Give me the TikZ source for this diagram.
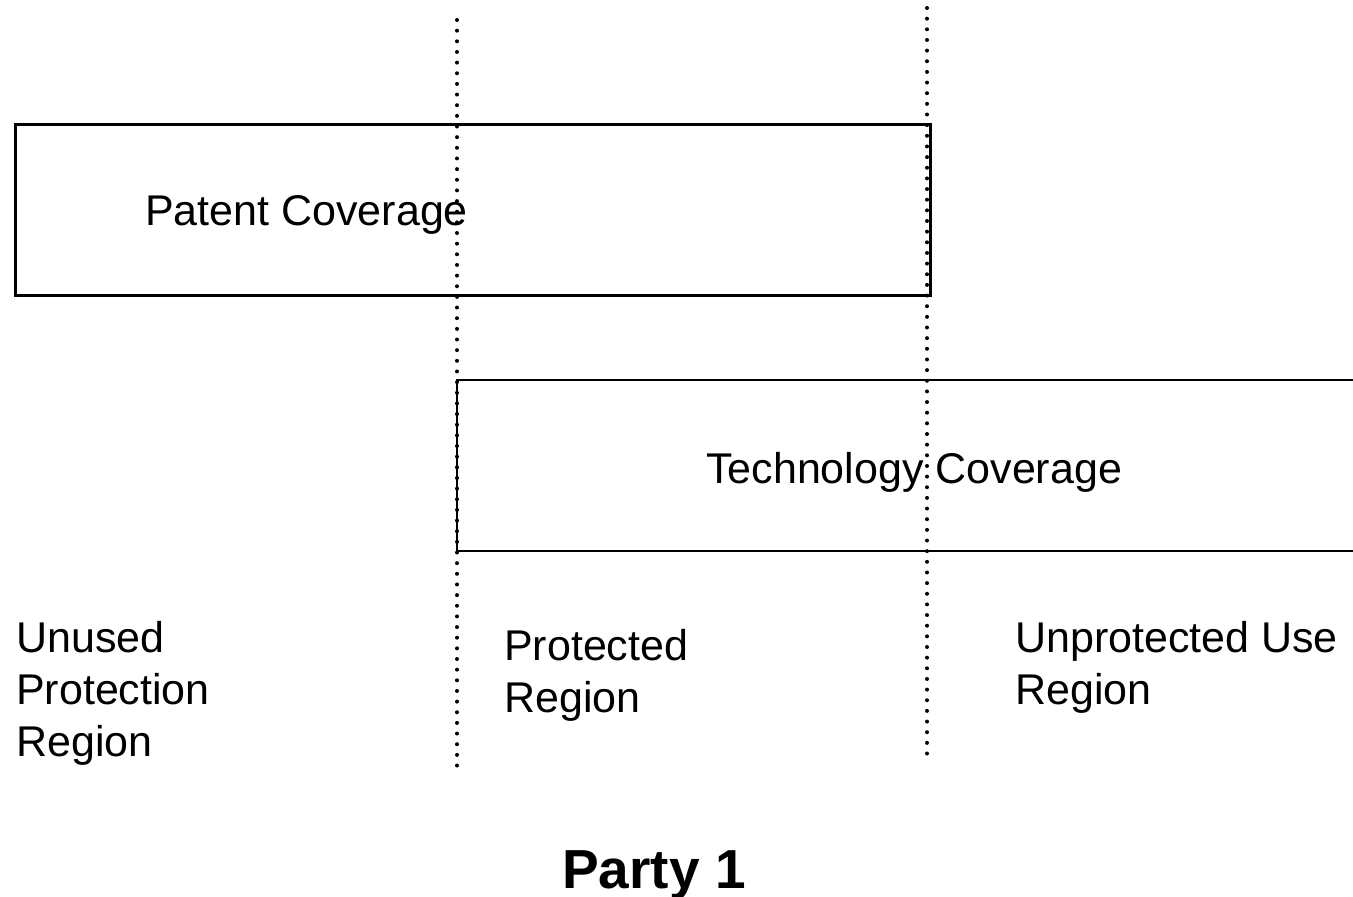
\documentclass[tikz,border=0pt]{standalone}
\usepackage{fontspec}
\setmainfont{Liberation Sans}
\begin{document}
\begin{tikzpicture}[x=1pt,y=-1pt,
  boxline/.style={draw=black,line width=2.5pt},
  divider/.style={line width=4pt,line cap=round,dash pattern=on 0pt off 10.65pt},
  label/.style={inner sep=0pt,anchor=base west,align=left,font=\fontsize{43}{52}\selectfont},
  title/.style={inner sep=0pt,anchor=base,font=\fontsize{55}{60}\selectfont\bfseries}]
\useasboundingbox (0,0) rectangle (1353,897);

% coverage bars
\node[boxline,inner sep=0pt,minimum width=915pt,minimum height=171pt,anchor=north west] (patent) at (14,123) {};
\coordinate (techTR) at (1353,380);
\coordinate (techTL) at (457,380);
\coordinate (techBL) at (457,551);
\coordinate (techBR) at (1353,551);
\draw[boxline] (techTR) -- (techTL) -- (techBL) -- (techBR);

% region dividers
\coordinate (d1top) at (457,20);
\coordinate (d1bot) at (457,775);
\coordinate (d2top) at (927,8);
\coordinate (d2bot) at (927,762);
\draw[divider] (d1top) -- (d1bot);
\draw[divider] (d2top) -- (d2bot);

% labels (multi-line nodes are placed by the baseline of their last line)
\node[label] (patentlbl) at (145,225) {Patent Coverage};
\node[label] (techlbl) at (706,483) {Technology Coverage};
\node[label] (unused) at (16,756) {Unused\\Protection\\Region};
\node[label] (protected) at (504,712) {Protected\\Region};
\node[label] (unprot) at (1015,704) {Unprotected Use\\Region};
\node[title] (party) at (654,888) {Party 1};
\end{tikzpicture}
\end{document}
